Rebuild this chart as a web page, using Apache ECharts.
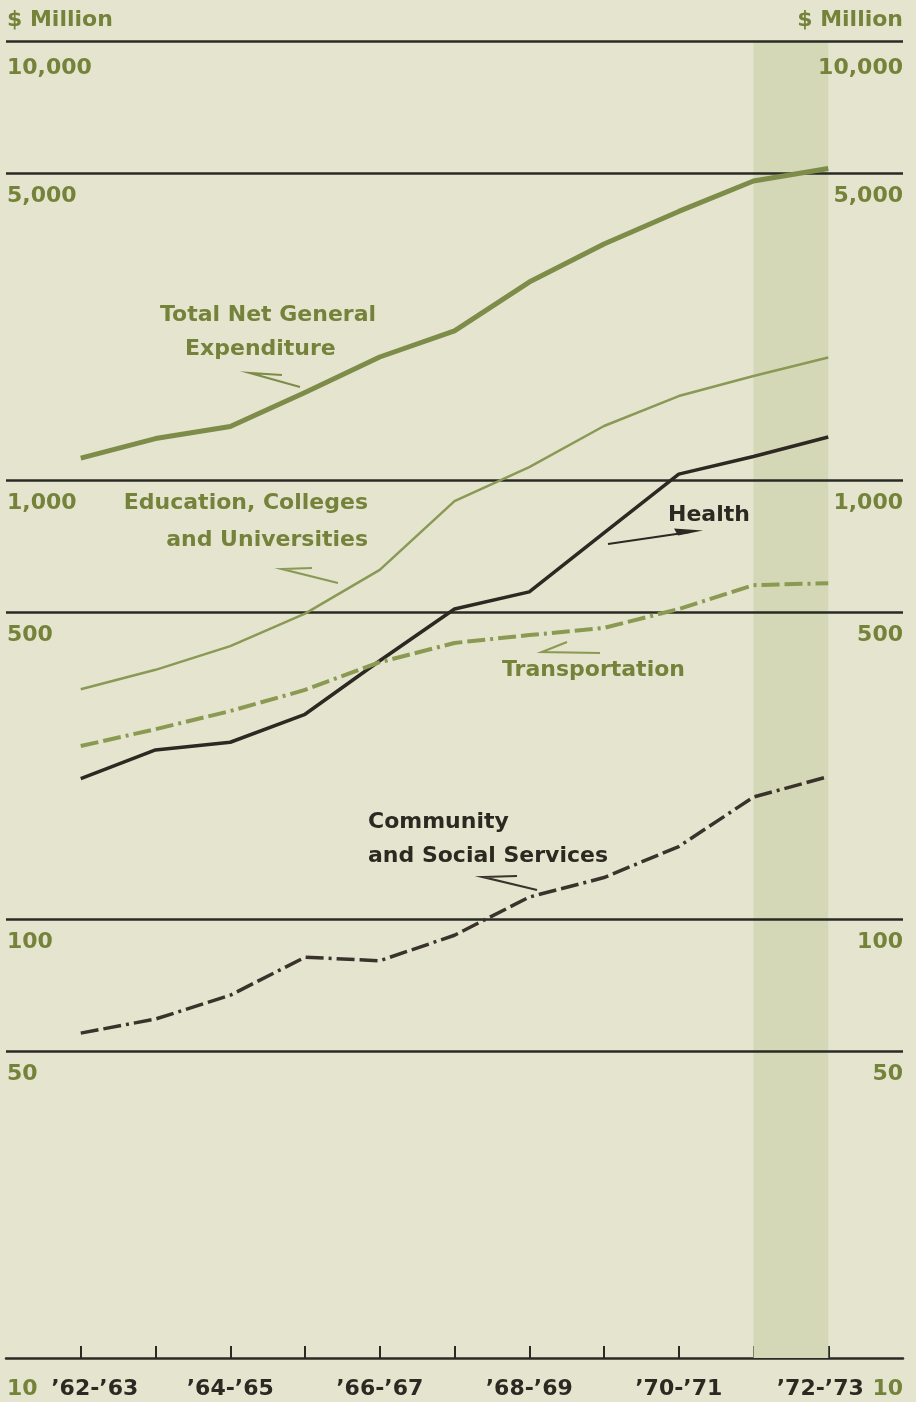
<!DOCTYPE html>
<html><head><meta charset="utf-8">
<script src="https://cdn.jsdelivr.net/npm/echarts@6/dist/echarts.min.js"></script>
<style>html,body{margin:0;padding:0;background:#e5e5cf;}#c{width:916px;height:1402px;}</style>
</head><body><div id="c"></div>
<script>
// ---- data ----
const years = ["’62-’63","’63-’64","’64-’65","’65-’66","’66-’67","’67-’68","’68-’69","’69-’70","’70-’71","’71-’72","’72-’73"];
const totalNetGeneral = [1124, 1245, 1327, 1585, 1910, 2190, 2830, 3455, 4100, 4810, 5135];
const education = [334, 370, 419, 497, 625, 897, 1072, 1330, 1556, 1729, 1905];
const health = [209, 243, 253, 293, 388, 509, 557, 759, 1033, 1133, 1255];
const transportation = [248, 271, 298, 333, 385, 426, 444, 461, 509, 577, 583];
const community = [55.0, 59.2, 67.1, 81.9, 80.4, 91.9, 112.3, 124.4, 146.4, 189.8, 211.3];
const yTicks = [10000, 5000, 1000, 500, 100, 50, 10];
const shadedFrom = "’71-’72", shadedTo = "’72-’73";

// ---- styles ----
const FONT = "'DejaVu Sans', 'Liberation Sans', sans-serif";
const OLIVE_TXT = '#75833a';
const DARK = '#2b2922';
const GRID = '#2a2a24';

const axisData = [''].concat(years, ['']);
const pad = a => [null].concat(a, [null]);
const fmt = v => v.toLocaleString('en-US');

const gridMarks = [];
yTicks.forEach(v => {
  const d = v === 10 ? 20 : (v === 10000 ? 16 : 12);
  gridMarks.push({yAxis: v, lineStyle: {color: GRID, width: v === 10 ? 0 : 2.5, type: 'solid'},
    label: {show: true, formatter: fmt(v), position: 'insideStartBottom', distance: [1, d]}});
  gridMarks.push({yAxis: v, lineStyle: {color: 'rgba(0,0,0,0)', width: 0, type: 'solid'},
    label: {show: true, formatter: fmt(v), position: 'insideEndBottom', distance: [0, d]}});
});

function lineSeries(name, data, color, width, type, extra) {
  return Object.assign({
    name, type: 'line', data: pad(data), symbol: 'none', smooth: false, z: 5,
    lineStyle: {color, width, type, cap: 'butt', join: 'round'}, silent: true, animation: false
  }, extra || {});
}

const dashDot = [18, 5, 18, 5, 3, 5];

const series = [
  lineSeries('Total Net General Expenditure', totalNetGeneral, '#7e8c4a', 5, 'solid', {
    markArea: {silent: true, itemStyle: {color: '#d4d8b6'}, data: [[{xAxis: shadedFrom}, {xAxis: shadedTo}]], z: 1},
    markLine: {silent: true, symbol: 'none', animation: false, z: 2,
      lineStyle: {type: 'solid'},
      label: {color: OLIVE_TXT, fontFamily: FONT, fontWeight: 'bold', fontSize: 22},
      data: gridMarks}
  }),
  lineSeries('Education, Colleges and Universities', education, '#8a9955', 2.5, 'solid'),
  lineSeries('Health', health, '#2e2822', 3.5, 'solid'),
  lineSeries('Transportation', transportation, '#8b9a52', 4, dashDot),
  lineSeries('Community and Social Services', community, '#3a332c', 3.5, dashDot)
];

const annotations = [
  {text: 'Total Net General', x: 160, y: 315, color: OLIVE_TXT, align: 'left'},
  {text: 'Expenditure', x: 185, y: 349, color: OLIVE_TXT, align: 'left'},
  {text: 'Education, Colleges', x: 368, y: 503, color: OLIVE_TXT, align: 'right'},
  {text: 'and Universities', x: 368, y: 540, color: OLIVE_TXT, align: 'right'},
  {text: 'Health', x: 668, y: 515, color: DARK, align: 'left'},
  {text: 'Transportation', x: 502, y: 670, color: OLIVE_TXT, align: 'left'},
  {text: 'Community', x: 368, y: 822, color: DARK, align: 'left'},
  {text: 'and Social Services', x: 368, y: 856, color: DARK, align: 'left'}
];
const arrows = [
  {pts: [[282,375],[250,373],[300,387]], color: '#7e8c4a'},
  {pts: [[312,568],[282,569],[338,583]], color: '#8a9955'},
  {pts: [[608,544],[690,532]], color: '#2e2822'},
  {pts: [[567,642],[542,652],[600,653]], color: '#8b9a52'},
  {pts: [[517,876],[483,877],[537,890]], color: '#3a332c'}
];

const graphic = [];
annotations.forEach(a => graphic.push({type: 'text', x: a.x, y: a.y, z: 10, silent: true,
  style: {text: a.text, fill: a.color, font: `bold 22px ${FONT}`, textAlign: a.align, textVerticalAlign: 'middle'}}));
arrows.forEach(a => graphic.push({type: 'polyline', z: 10, silent: true,
  shape: {points: a.pts}, style: {stroke: a.color, lineWidth: 2.2, fill: null}}));
graphic.push({type: 'polygon', z: 10, silent: true, shape: {points: [[674,528.5],[703,530.5],[678,535.5]]}, style: {fill: '#2e2822'}});

const yAxisBase = {
  type: 'log', logBase: 10, min: 10, max: 10000,
  axisLine: {show: false}, axisTick: {show: false}, axisLabel: {show: false}, splitLine: {show: false},
  nameLocation: 'end', nameGap: 10,
};

const xRich = {
  f: {fontFamily: FONT, fontWeight: 'bold', fontSize: 22, color: DARK, padding: [0, 0, 0, 28]},
  l: {fontFamily: FONT, fontWeight: 'bold', fontSize: 22, color: DARK, padding: [0, 16, 0, 0]}
};

const chart = echarts.init(document.getElementById('c'), null, {renderer: 'canvas'});
chart.setOption({
  backgroundColor: '#e5e5cf',
  animation: false,
  grid: {left: 6, right: 13, top: 41.5, bottom: 44},
  xAxis: {
    type: 'category', data: axisData, boundaryGap: false,
    axisLine: {show: true, lineStyle: {color: GRID, width: 2.5}},
    axisTick: {show: true, inside: true, length: 12, lineStyle: {color: GRID, width: 2},
      interval: (i) => i >= 1 && i <= years.length},
    axisLabel: {show: true, color: DARK, fontFamily: FONT, fontWeight: 'bold', fontSize: 22, margin: 20,
      interval: (i) => i >= 1 && i <= years.length && (i - 1) % 2 === 0,
      formatter: (v, i) => i === 1 ? `{f|${v}}` : (i === years.length ? `{l|${v}}` : v),
      rich: xRich},
    splitLine: {show: false}
  },
  yAxis: [
    Object.assign({}, yAxisBase, {position: 'left', name: '$ Million',
      nameTextStyle: {color: OLIVE_TXT, fontFamily: FONT, fontWeight: 'bold', fontSize: 22, align: 'left', padding: [0,0,0,1]}}),
    Object.assign({}, yAxisBase, {position: 'right', name: '$ Million',
      nameTextStyle: {color: OLIVE_TXT, fontFamily: FONT, fontWeight: 'bold', fontSize: 22, align: 'right'}})
  ],
  series,
  graphic
});
</script></body></html>
